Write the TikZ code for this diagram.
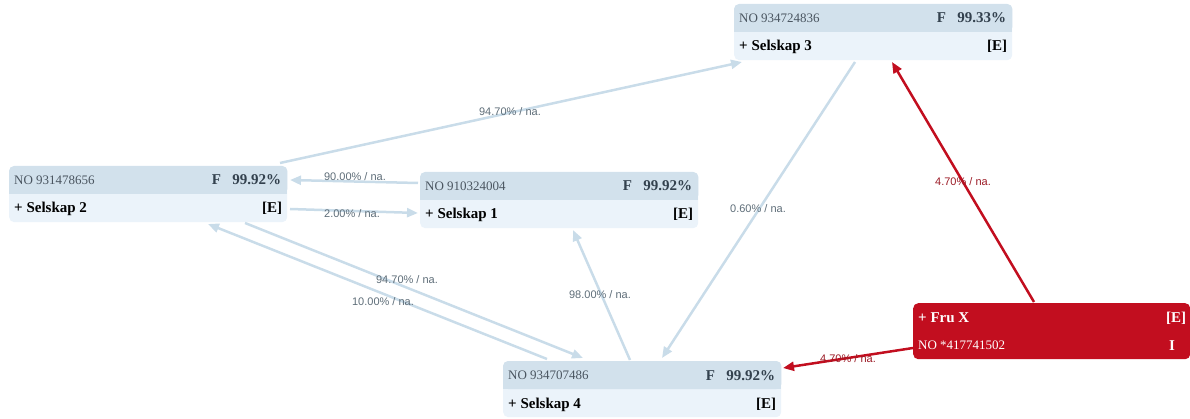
\documentclass[tikz,border=0pt]{standalone}
\usepackage{fontspec}
\setmainfont{Liberation Serif}
\newfontfamily\labfont{Liberation Sans}
\usetikzlibrary{arrows.meta,calc}
\definecolor{hdrc}{HTML}{D2E1EC}
\definecolor{bodyc}{HTML}{EBF3FA}
\definecolor{edgec}{HTML}{C9DCE9}
\definecolor{labc}{HTML}{5E6D78}
\definecolor{redc}{HTML}{C20E1F}
\definecolor{redlab}{HTML}{9B1B26}
\definecolor{notext}{HTML}{4A5560}
\definecolor{pcttext}{HTML}{33414E}
\tikzset{
  boxbg/.style={rectangle, rounded corners=5pt, fill=bodyc, minimum width=278pt, minimum height=56pt, inner sep=0pt, anchor=north west},
  redbox/.style={rectangle, rounded corners=5pt, fill=redc, minimum width=277pt, minimum height=56pt, inner sep=0pt, anchor=north west},
  notxt/.style={font=\fontsize{13}{15}\selectfont, text=notext, inner sep=0pt},
  pcttxt/.style={font=\fontsize{15}{17}\selectfont\bfseries, text=pcttext, inner sep=0pt},
  nametxt/.style={font=\fontsize{15}{17}\selectfont\bfseries, text=black, inner sep=0pt},
  bluedge/.style={draw=edgec, line width=2.5pt, -{Triangle[length=11pt,width=9pt]}},
  rededge/.style={draw=redc, line width=2.5pt, -{Triangle[length=11pt,width=9pt]}},
  elab/.style={font=\labfont\fontsize{11}{13}\selectfont, text=labc, inner sep=0pt},
  rlab/.style={font=\labfont\fontsize{11}{13}\selectfont, text=redlab, inner sep=0pt},
}
\newcommand{\companybox}[6]{%
  \node[boxbg] (#1) at (#2,#3) {};
  \fill[hdrc, rounded corners=5pt] (#1.north west) rectangle ($(#1.north east)+(0,28)$);
  \fill[hdrc] ($(#1.north west)+(0,14)$) rectangle ($(#1.north east)+(0,28)$);
  \node[notxt, anchor=base west] (#1no) at ($(#1.north west)+(5,18.5)$) {#4};
  \node[pcttxt, anchor=base east] (#1pct) at ($(#1.north east)+(-6,19)$) {#5};
  \node[pcttxt, anchor=base east] (#1f) at ($(#1pct.base west)+(-11,0)$) {F};
  \node[nametxt, anchor=base west] (#1name) at ($(#1.north west)+(5,47)$) {#6};
  \node[nametxt, anchor=base east] (#1e) at ($(#1.north east)+(-5,47)$) {[E]};
}
\begin{document}
\begin{tikzpicture}[x=1pt,y=-1pt]
\useasboundingbox (0,0) rectangle (1190,419);
\companybox{s2}{9}{166}{NO 931478656}{99.92\%}{+ Selskap 2}
\companybox{s1}{420}{172}{NO 910324004}{99.92\%}{+ Selskap 1}
\companybox{s3}{734}{4}{NO 934724836}{99.33\%}{+ Selskap 3}
\companybox{s4}{503}{361}{NO 934707486}{99.92\%}{+ Selskap 4}
% Fru X
\node[redbox] (fru) at (913,303) {};
\node[nametxt, text=white, anchor=base west] (fruname) at ($(fru.north west)+(5,19)$) {+ Fru X};
\node[nametxt, text=white, anchor=base east] (frue) at ($(fru.north east)+(-4,19)$) {[E]};
\node[notxt, text=white, anchor=base west] (fruno) at ($(fru.north west)+(5,46.5)$) {NO *417741502};
\node[nametxt, text=white, anchor=base] (frui) at ($(fru.north west)+(259,47)$) {I};
% edges
\draw[bluedge] ($(s2.north west)+(271,-3)$) -- ($(s3.north west)+(8,58)$);
\draw[bluedge] ($(s1.north west)+(-2,11)$) -- ($(s2.north west)+(281,14)$);
\draw[bluedge] ($(s2.north west)+(281,43)$) -- ($(s1.north west)+(-2,41)$);
\draw[bluedge] ($(s2.north west)+(236,57)$) -- ($(s4.north west)+(80,-3)$);
\draw[bluedge] ($(s4.north west)+(44,-2)$) -- ($(s2.north west)+(199,58)$);
\draw[bluedge] ($(s4.north west)+(127,-1)$) -- ($(s1.north west)+(153,58)$);
\draw[bluedge] ($(s3.north west)+(121,58)$) -- ($(s4.north west)+(159,-3)$);
\draw[rededge] ($(fru.north west)+(121,-1)$) -- ($(s3.north west)+(158,58)$);
\draw[rededge] ($(fru.north west)+(0,45)$) -- ($(s4.north west)+(280,7)$);
% labels
\node[elab] (l1) at (510,112) {94.70\% / na.};
\node[elab] (l2) at (355,177) {90.00\% / na.};
\node[elab] (l3) at (352,214) {2.00\% / na.};
\node[elab] (l4) at (407,280) {94.70\% / na.};
\node[elab] (l5) at (383,302) {10.00\% / na.};
\node[elab] (l6) at (600,295) {98.00\% / na.};
\node[elab] (l7) at (758,209) {0.60\% / na.};
\node[rlab] (l8) at (963,182) {4.70\% / na.};
\node[rlab] (l9) at (848,359) {4.70\% / na.};
\end{tikzpicture}
\end{document}
